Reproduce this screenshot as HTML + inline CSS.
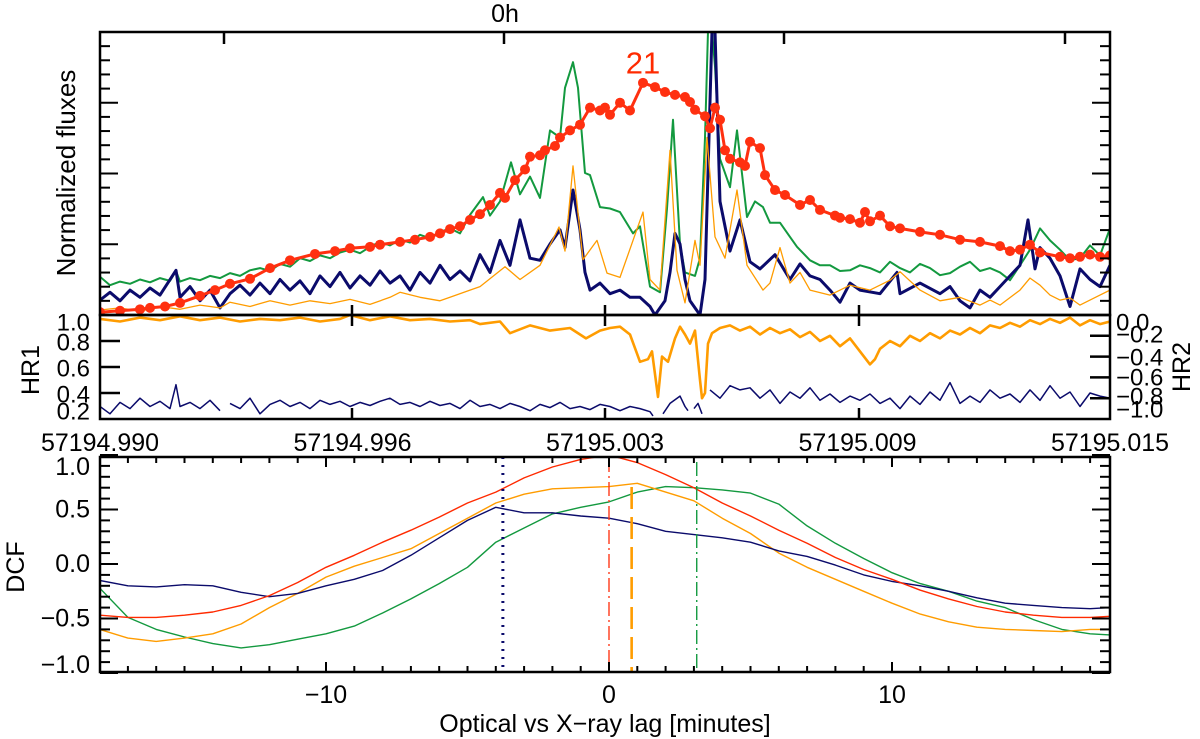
<!DOCTYPE html>
<html><head><meta charset="utf-8"><style>
html,body{margin:0;padding:0;background:#fff}
svg{display:block;font-family:"Liberation Sans",Arial,sans-serif}
</style></head><body>
<svg id="chart" width="1200" height="739" viewBox="0 0 1200 739" xmlns="http://www.w3.org/2000/svg">
<defs>
<clipPath id="clipTop"><rect x="100" y="32" width="1010" height="283"/></clipPath>
<clipPath id="clipHR"><rect x="100" y="315" width="1010" height="104"/></clipPath>
<clipPath id="clipDCF"><rect x="100" y="457" width="1010" height="215"/></clipPath>
</defs>
<g id="g-top"></g>
<g id="g-hr"></g>
<g id="g-dcf"></g>
<g id="g-axes"></g>
<g id="g-text"></g>
</svg>
<script>
// ---- light curves (time in 21.4 s bins from MJD 57194.990) ----
const greenT=[0,1,2,3,4,5,6,7,7.6,8,9,10,11,12,13,14,15,16,17,18,19,20,21,22,23,24,25,26,27,28,29,30,31,32,33,34,35,36,37,38.3,39,40,41.1,42,43,44,45,46,46.5,47.3,47.8,48.5,49,50,51,52,53.3,54,55,56,56.7,57.3,58,58.5,59.5,60,60.5,60.8,61.2,61.5,62,63,63.7,64.7,65.5,66.3,67,68,69,69.7,71,72,73,74,75,76,77,78,79,80,81,82,83,84,85,86,87,88,89,90,91,92,93,94,95,96,97,98,99,100,101];
const greenV=[0.54,0.42,0.47,0.44,0.5,0.46,0.52,0.48,0.62,0.47,0.52,0.49,0.55,0.52,0.59,0.55,0.63,0.66,0.62,0.72,0.68,0.8,0.76,0.84,0.8,0.88,0.92,0.87,0.96,1.03,0.98,1.06,1.02,1.13,1.08,1.17,1.22,1.15,1.41,1.66,1.4,1.6,2.15,1.7,1.95,1.65,2.6,2.5,3.2,3.56,3.2,2.0,1.97,1.52,1.5,1.45,1.15,1.25,0.4,0.32,1.5,2.75,1.0,0.6,0.55,0.8,2.5,4.0,4.0,3.5,2.2,1.8,2.6,1.38,1.6,1.52,1.3,1.3,1.1,0.96,0.77,0.7,0.7,0.62,0.63,0.7,0.66,0.6,0.75,0.66,0.6,0.72,0.66,0.56,0.59,0.68,0.75,0.62,0.66,0.6,0.49,0.7,0.92,1.22,1.05,0.92,0.77,0.8,0.98,0.84,1.22];
const navyT=[0,1,2,3,4,5,6,7.6,8,9,10,11,12,13,14,15,16,17,18,19,20,21,22,23,24,25,26,27,28,29,30,31,32,33,34,35,36,37,38,39,40,41,42,43,44,45,46,46.5,47.3,48,48.5,49,50,51,52,53,54,55,55.5,56.5,57,57.5,58,58.5,59,60,60.5,61,61.2,61.5,62,63,64,65,66,67.5,69,70,71,72,73,74,75,76,78,79.7,80,82,84,85,86,87,88,89,90,91,92,92.8,93.5,94,95,96,97,98,99,100,101];
const navyV=[0.21,0.32,0.2,0.35,0.25,0.38,0.28,0.63,0.25,0.4,0.2,0.35,0.1,0.3,0.42,0.28,0.45,0.3,0.5,0.35,0.48,0.3,0.55,0.4,0.6,0.38,0.55,0.42,0.62,0.45,0.55,0.35,0.6,0.45,0.7,0.5,0.62,0.48,0.85,0.6,1.05,0.7,1.34,0.8,0.77,1.0,1.2,0.95,1.76,1.2,0.6,0.35,0.45,0.3,0.35,0.25,0.25,0.12,0.0,0.2,0.6,1.15,1.0,0.5,0.2,0.0,0.5,3.0,4.0,4.0,1.6,0.9,1.34,0.75,0.65,0.85,0.5,0.72,0.55,0.5,0.35,0.18,0.45,0.35,0.3,0.6,0.3,0.45,0.3,0.4,0.2,0.1,0.35,0.25,0.4,0.55,0.7,1.34,0.65,0.95,0.8,0.55,0.12,0.65,0.5,0.4,0.7];
const orangeT=[0,2,4,6,8,10,12,13,15,17,19,21,23,25,27,29,30,32,34,35,37,38,40.5,42,44,45.9,46.5,47.3,48.3,49.7,50.7,52,54.3,55,56,57,57.7,58.5,59.5,60,60.7,61.5,62.5,63.7,64.7,66.3,67,68,69,70,71,73,75,77,79,80,82,84,86,88,89,90,92,93,94,95,96,97,98,99,100,101];
const orangeV=[0.07,0.1,0.05,0.12,0.08,0.14,0.1,0.18,0.12,0.2,0.14,0.2,0.16,0.22,0.15,0.25,0.32,0.25,0.2,0.25,0.35,0.4,0.68,0.5,0.7,1.24,0.9,2.1,0.78,1.05,0.59,0.53,1.45,0.5,0.35,2.32,0.63,0.17,1.05,0.7,2.5,1.1,0.8,1.76,0.7,0.35,0.45,0.95,0.45,0.6,0.35,0.28,0.42,0.35,0.49,0.61,0.35,0.2,0.25,0.14,0.21,0.14,0.35,0.52,0.42,0.28,0.21,0.24,0.14,0.21,0.28,0.35];
const redT=[0,2,4,5,6.5,8,10,11.5,13,15,17,19,21.5,23.5,25,27,28,30,31.5,33,34,35,36,37,38,39,40,40.5,41.5,42.5,43,44,44.5,45.5,46,47,48,49,50,50.5,51,52,53,54.3,55.5,56.5,57.5,58.5,59,59.5,60.5,61,61.5,62,62.5,63,64,64.5,65,66,66.5,67.5,68.5,70,71,72,73.5,74,75,76,76.5,77,78,79,80,82,84,86,88,90,91,92,93,94,96,97,98,99,100,101];
const redV=[0.04,0.06,0.08,0.1,0.12,0.17,0.27,0.35,0.44,0.51,0.66,0.77,0.86,0.9,0.94,0.96,0.99,1.03,1.06,1.1,1.15,1.21,1.25,1.34,1.42,1.55,1.72,1.65,1.9,2.05,2.23,2.25,2.32,2.38,2.5,2.6,2.68,2.92,2.88,2.92,2.82,2.99,2.88,3.27,3.21,3.14,3.1,3.07,3.0,2.89,2.8,2.63,2.92,2.75,2.32,2.2,2.15,2.1,2.44,2.35,1.97,1.76,1.69,1.55,1.62,1.48,1.4,1.37,1.35,1.3,1.45,1.32,1.4,1.25,1.22,1.17,1.13,1.06,1.03,0.97,0.9,0.92,0.99,0.88,0.82,0.8,0.82,0.85,0.82,0.84];
// ---- hardness ratios ----
const hr1T=[0,2,4,6,8,10,12,14,16,18,20,22,24,25,27,29,31,33,35,37,38,40,41,43,45,47,48.6,50,51,52,53,54,54.8,55.2,55.8,56.2,56.8,57.5,58,58.5,59,59.5,60,60.2,60.5,60.8,61.2,62,63,64,65,66,67,68,69,70,71,72,73,74,75,76,77,77.5,78,79,80,81,82,83,84,85,86,87,88,89,90,91,92,93,94,95,96,97,98,99,100,101];
const hr1V=[0.97,0.95,0.98,0.96,0.99,0.96,0.98,0.95,0.97,0.96,0.98,0.95,0.97,1.0,0.96,0.99,0.96,0.97,0.95,0.96,0.93,0.95,0.86,0.92,0.88,0.9,0.82,0.88,0.9,0.91,0.85,0.64,0.66,0.72,0.37,0.68,0.64,0.82,0.91,0.85,0.78,0.88,0.5,0.36,0.4,0.78,0.86,0.9,0.92,0.88,0.91,0.85,0.9,0.86,0.89,0.83,0.87,0.8,0.84,0.76,0.82,0.72,0.62,0.66,0.74,0.8,0.76,0.84,0.8,0.86,0.82,0.88,0.85,0.9,0.86,0.92,0.9,0.94,0.91,0.96,0.93,0.97,0.94,0.98,0.92,0.96,0.93,0.95];
const hr2T=[0,1,2,3,4,5,6,7,7.6,8,9,10,11,12,12.5,13,14,15,16,17,18,19,20,21,22,23,24,25,26,27,28,29,30,31,32,33,34,35,36,37,38,39,40,41,42,43,44,45,46,47,48,49,50,51,52,53,54,55,55.3,55.4,56.3,57,58,58.5,58.8,59,59.4,59.8,60.2,60.4,61,62,63,64,65,66,67,68,69,70,71,72,73,74,75,76,77,78,79,80,81,82,83,84,85,86,87,88,89,90,91,92,93,94,95,96,97,98,99,100,101];
const hr2V=[-0.88,-0.95,-0.84,-0.9,-0.8,-0.88,-0.83,-0.9,-0.67,-0.88,-0.84,-0.9,-0.82,-0.92,null,-0.85,-0.9,-0.8,-0.95,-0.86,-0.82,-0.88,-0.84,-0.9,-0.82,-0.86,-0.83,-0.88,-0.84,-0.87,-0.83,-0.8,-0.86,-0.84,-0.88,-0.83,-0.87,-0.85,-0.9,-0.82,-0.88,-0.86,-0.9,-0.85,-0.88,-0.92,-0.86,-0.89,-0.84,-0.9,-0.88,-0.91,-0.86,-0.88,-0.92,-0.88,-0.9,-0.93,-0.97,null,-0.95,-0.85,-0.78,-0.88,-0.92,null,-0.9,-0.85,-0.95,null,-0.72,-0.8,-0.68,-0.72,-0.7,-0.8,-0.72,-0.85,-0.74,-0.8,-0.7,-0.82,-0.76,-0.84,-0.78,-0.82,-0.76,-0.85,-0.8,-0.9,-0.78,-0.86,-0.74,-0.82,-0.65,-0.85,-0.78,-0.84,-0.72,-0.8,-0.76,-0.84,-0.72,-0.82,-0.68,-0.8,-0.74,-0.88,-0.75,-0.78,-0.8];
// ---- DCF (lag in minutes) ----
const lags=[-18,-17,-16,-15,-14,-13,-12,-11,-10,-9,-8,-7,-6,-5,-4,-3,-2,-1,0,1,2,3,4,5,6,7,8,9,10,11,12,13,14,15,16,17,17.7];
const dcfRed=[-0.47,-0.49,-0.49,-0.47,-0.44,-0.38,-0.29,-0.17,-0.03,0.08,0.2,0.31,0.43,0.56,0.66,0.79,0.89,0.96,1.0,0.93,0.82,0.7,0.56,0.44,0.31,0.19,0.06,-0.05,-0.14,-0.24,-0.32,-0.39,-0.44,-0.47,-0.49,-0.49,-0.48];
const dcfNavy=[-0.15,-0.2,-0.21,-0.19,-0.2,-0.26,-0.3,-0.27,-0.2,-0.14,-0.06,0.08,0.24,0.4,0.52,0.47,0.47,0.44,0.42,0.37,0.3,0.27,0.24,0.2,0.12,0.07,-0.01,-0.1,-0.16,-0.2,-0.25,-0.31,-0.36,-0.38,-0.4,-0.41,-0.4];
const dcfOrange=[-0.6,-0.68,-0.71,-0.68,-0.64,-0.55,-0.4,-0.27,-0.12,-0.02,0.06,0.14,0.28,0.42,0.56,0.64,0.69,0.7,0.71,0.74,0.66,0.58,0.42,0.28,0.1,-0.03,-0.14,-0.25,-0.36,-0.46,-0.53,-0.58,-0.6,-0.61,-0.62,-0.6,-0.6];
const dcfGreen=[-0.22,-0.49,-0.6,-0.67,-0.73,-0.77,-0.74,-0.69,-0.64,-0.57,-0.45,-0.32,-0.18,-0.03,0.2,0.33,0.46,0.52,0.57,0.66,0.71,0.7,0.68,0.65,0.55,0.35,0.19,0.05,-0.08,-0.18,-0.25,-0.34,-0.4,-0.51,-0.6,-0.64,-0.65];
const lagMarkers=[-3.75,0,0.8,3.1];
const hrTickLabels=["57194.990","57194.996","57195.003","57195.009","57195.015"];
const dcfYTicks=[1.0,0.5,0.0,-0.5,-1.0];
const dcfXTicks=[-10,0,10];

// ---- axis functions ----
const xT=t=>100+t*10;
const yF=v=>315-v*71;
const yH1=v=>315+(1-v)*130;
const yH2=v=>315-v*104;
const xL=l=>609+l*28.3;
const yD=v=>564-v*109;

const NS="http://www.w3.org/2000/svg";
function mk(tag,attrs,parent){const e=document.createElementNS(NS,tag);for(const k in attrs)e.setAttribute(k,attrs[k]);parent.appendChild(e);return e;}
function pathFrom(xs,ys,fx,fy){let d="",pen=false;for(let i=0;i<xs.length;i++){if(ys[i]===null){pen=false;continue;}d+=(pen?"L":"M")+fx(xs[i]).toFixed(1)+","+fy(ys[i]).toFixed(1);pen=true;}return d;}

const gTop=document.getElementById('g-top');
const cTop=mk('g',{'clip-path':'url(#clipTop)'},gTop);
let p;
p=mk('path',{d:pathFrom(greenT,greenV,xT,yF),fill:'none',stroke:'#13993f','stroke-width':2,'stroke-linejoin':'round'},cTop);

p=mk('path',{d:pathFrom(navyT,navyV,xT,yF),fill:'none',stroke:'#0b0b6b','stroke-width':3,'stroke-linejoin':'round'},cTop);

p=mk('path',{d:pathFrom(orangeT,orangeV,xT,yF),fill:'none',stroke:'#ff9c00','stroke-width':1.3,'stroke-linejoin':'round'},cTop);

p=mk('path',{d:pathFrom(redT,redV,xT,yF),fill:'none',stroke:'#ff3010','stroke-width':3},cTop);

for(let i=0;i<redT.length;i++){
  const c=mk('circle',{cx:xT(redT[i]),cy:yF(redV[i]),r:5,fill:'#ff3010'},cTop);
  
  
}

const gHR=document.getElementById('g-hr');
const cHR=mk('g',{'clip-path':'url(#clipHR)'},gHR);
p=mk('path',{d:pathFrom(hr1T,hr1V,xT,yH1),fill:'none',stroke:'#ff9c00','stroke-width':2.6,'stroke-linejoin':'round'},cHR);

p=mk('path',{d:pathFrom(hr2T,hr2V,xT,yH2),fill:'none',stroke:'#0b0b6b','stroke-width':1.5,'stroke-linejoin':'round'},cHR);


const gD=document.getElementById('g-dcf');
const cD=mk('g',{'clip-path':'url(#clipDCF)'},gD);
const dcfSeries=[[dcfGreen,'#13993f','dcf-green'],[dcfOrange,'#ff9c00','dcf-orange'],[dcfNavy,'#0b0b6b','dcf-navy'],[dcfRed,'#ff2a00','dcf-red-fit']];
dcfSeries.forEach(s=>{
  p=mk('path',{d:pathFrom(lags,s[0],xL,yD),fill:'none',stroke:s[1],'stroke-width':1.4,'stroke-linejoin':'round'},cD);
  
  
});
const markerStyle=[['#0b0b6b',3,'2,6',457],['#ff3a1a',1.4,'14,4,2,4',458],['#ff9c00',2.6,'22,8',487],['#13993f',1.4,'14,4,2,4',462]];
lagMarkers.forEach((l,i)=>{
  const m=markerStyle[i];
  const ln=mk('line',{x1:xL(l),x2:xL(l),y1:m[3],y2:672,stroke:m[0],'stroke-width':m[1],'stroke-dasharray':m[2]},cD);
  
  
});

// ---- axes ----
const gA=document.getElementById('g-axes');
function ln(x1,y1,x2,y2,w){mk('line',{x1,y1,x2,y2,stroke:'#000','stroke-width':w||2},gA);}
function box(x,y,w,h,name){const r=mk('rect',{x,y,width:w,height:h,fill:'none',stroke:'#000','stroke-width':2.5},gA);}
box(100,32,1010,283,'top-frame');box(100,315,1010,104,'hr-frame');box(100,457,1010,215,'dcf-frame');
for(let k=0;k<=20;k++){const y=32+k*14.15;const L=(k%5===0)?18:10;ln(100,y,100+L,y);ln(1110,y,1110-L,y);}
[224,504,784,1065].forEach(x=>ln(x,32,x,44,2.5));
[352,605,859].forEach(x=>{ln(x,315,x,305,2.5);ln(x,315,x,326,2.5);ln(x,419,x,408,2.5);});
[0.8,0.6,0.4].forEach(v=>ln(100,yH1(v),120,yH1(v),2.5));
[-0.2,-0.4,-0.6,-0.8].forEach(v=>ln(1110,yH2(v),1090,yH2(v),2.5));
for(let v=-10;v<=10;v++){const y=yD(v/10);const L=(v%5===0)?18:10;ln(100,y,100+L,y);ln(1110,y,1110-L,y);}
for(let l=-17;l<=17;l++){const x=xL(l);const L=(l%10===0)?10:6;ln(x,672,x,672-L);ln(x,457,x,457+L);}

// ---- text ----
const gT=document.getElementById('g-text');
function tx(x,y,s,size,anchor,name,extra){const e=mk('text',Object.assign({x,y,'font-size':size,'text-anchor':anchor||'middle','dominant-baseline':'central',fill:'#000'},extra||{}),gT);e.textContent=s;return e;}
tx(505,14,'0h',25,'middle','top-time-label');
tx(643,63,'21',31,'middle','peak-label',{fill:'#ff2a00'});
tx(66,173,'Normalized fluxes',26,'middle','y-axis-title-flux',{transform:'rotate(-90 66 173)'});
hrTickLabels.forEach((s,i)=>tx(100+i*252.5,443,s,25,'middle','mjd-tick-label',{textLength:118,lengthAdjust:'spacingAndGlyphs'}));
[['1.0',323],['0.8',343],['0.6',369],['0.4',395],['0.2',412]].forEach(a=>tx(90,a[1],a[0],24,'end','hr1-tick-label'));
[['0.0',323],['\u22120.2',335],['\u22120.4',358],['\u22120.6',378],['\u22120.8',397],['\u22121.0',410]].forEach(a=>tx(1116,a[1],a[0],24,'start','hr2-tick-label'));
tx(31,370,'HR1',25,'middle','y-axis-title-hr1',{transform:'rotate(-90 31 370)'});
tx(1182,367,'HR2',25,'middle','y-axis-title-hr2',{transform:'rotate(-90 1182 367)'});
dcfYTicks.forEach(v=>{const y=(v===1)?467:(v===-1)?665:yD(v);tx(90,y,(v<0?'\u2212':'')+Math.abs(v).toFixed(1),25,'end','dcf-y-tick-label');});
tx(16,567,'DCF',25,'middle','y-axis-title-dcf',{transform:'rotate(-90 16 567)'});
dcfXTicks.forEach(l=>tx(xL(l),695,(l<0?'\u2212':'')+Math.abs(l),25,'middle','dcf-x-tick-label'));
tx(605,724,'Optical vs X\u2212ray lag [minutes]',25,'middle','x-axis-title');
</script>
</body></html>
